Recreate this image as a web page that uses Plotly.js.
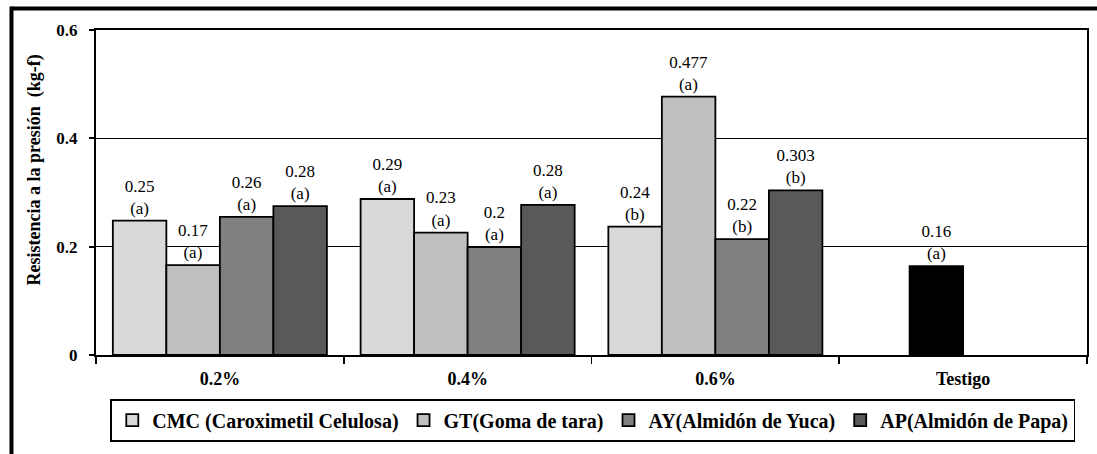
<!DOCTYPE html>
<html>
<head>
<meta charset="utf-8">
<script src="https://cdn.plot.ly/plotly-3.0.1.min.js"></script>
<style>
  html, body { margin: 0; padding: 0; background: #fff; }
  #chart { width: 1097px; height: 454px; }
</style>
</head>
<body>
<div id="chart"></div>
<script>
// ---- data ----
const categories = ["0.2%", "0.4%", "0.6%", "Testigo"];
const seriesNames = [
  "CMC (Caroximetil Celulosa)",
  "GT(Goma de tara)",
  "AY(Almidón de Yuca)",
  "AP(Almidón de Papa)"
];
const cmcValues = [0.248, 0.288, 0.237, null];
const gtValues  = [0.166, 0.226, 0.477, 0.164];
const ayValues  = [0.255, 0.199, 0.214, null];
const apValues  = [0.275, 0.277, 0.304, null];

const cmcLabels = ["0.25<br>(a)", "0.29<br>(a)", "0.24<br>(b)", ""];
const gtLabels  = ["0.17<br>(a)", "0.23<br>(a)", "0.477<br>(a)", "0.16<br>(a)"];
const ayLabels  = ["0.26<br>(a)", "0.2<br>(a)", "0.22<br>(b)", ""];
const apLabels  = ["0.28<br>(a)", "0.28<br>(a)", "0.303<br>(b)", ""];

const yTickValues = [0, 0.2, 0.4, 0.6];
const yTickLabels = ["0", "0.2", "0.4", "0.6"];
const yTitle = "Resistencia a la presión  (kg-f)";

// ---- styles ----
const serif = "'Liberation Serif', 'Times New Roman', serif";
const seriesColors = ["#d9d9d9", "#c0c0c0", "#808080", "#595959"];
const testigoColor = "#000000";

function makeTrace(name, values, labels, color, isGT) {
  const colors = values.map((v, i) => (isGT && categories[i] === "Testigo") ? testigoColor : color);
  return {
    type: "bar",
    name: name,
    x: categories,
    y: values,
    text: labels,
    textposition: "outside",
    cliponaxis: false,
    textfont: { family: serif, size: 17, color: "#000" },
    marker: {
      color: colors,
      line: { color: "#000", width: 1.8 }
    },
    hoverinfo: "x+y+name"
  };
}

const traces = [
  makeTrace(seriesNames[0], cmcValues, cmcLabels, seriesColors[0], false),
  makeTrace(seriesNames[1], gtValues, gtLabels, seriesColors[1], true),
  makeTrace(seriesNames[2], ayValues, ayLabels, seriesColors[2], false),
  makeTrace(seriesNames[3], apValues, apLabels, seriesColors[3], false)
];

const layout = {
  width: 1097,
  height: 454,
  margin: { l: 96, r: 10, t: 30, b: 99 },
  paper_bgcolor: "#fff",
  plot_bgcolor: "#fff",
  barmode: "group",
  bargap: 0.136,
  bargroupgap: 0,
  showlegend: true,
  legend: {
    orientation: "h",
    x: 0.5015,
    xanchor: "center",
    y: -0.135,
    yanchor: "top",
    bordercolor: "#000",
    borderwidth: 1.8,
    bgcolor: "#fff",
    font: { family: serif, size: 20, color: "#000", weight: "bold" },
    traceorder: "normal",
    itemwidth: 30
  },
  xaxis: {
    type: "category",
    showline: true,
    linecolor: "#000",
    linewidth: 2.2,
    mirror: true,
    ticks: "outside",
    tickson: "boundaries",
    ticklen: 7,
    tickwidth: 1.8,
    tickcolor: "#000",
    ticklabelstandoff: 6,
    tickfont: { family: serif, size: 18, color: "#000", weight: "bold" },
    showgrid: false,
    zeroline: false,
    fixedrange: true
  },
  yaxis: {
    range: [0, 0.6],
    tickvals: yTickValues,
    ticktext: yTickLabels,
    showline: true,
    linecolor: "#000",
    linewidth: 2.2,
    mirror: true,
    ticks: "outside",
    ticklen: 5,
    tickwidth: 1.8,
    tickcolor: "#000",
    ticklabelstandoff: 8,
    tickfont: { family: serif, size: 17, color: "#000", weight: "bold" },
    showgrid: true,
    gridcolor: "#000",
    gridwidth: 1.6,
    zeroline: false,
    fixedrange: true
  },
  annotations: [
    {
      text: yTitle,
      xref: "paper", yref: "paper",
      x: -0.0616, y: 0.5708,
      xanchor: "center", yanchor: "middle",
      textangle: -90,
      showarrow: false,
      font: { family: serif, size: 18, color: "#000", weight: "bold" }
    }
  ],
  shapes: [
    {
      type: "line", xref: "paper", yref: "paper",
      x0: -0.0853, x1: 1.02, y0: 1.066, y1: 1.066,
      line: { color: "#000", width: 4 }, layer: "above"
    },
    {
      type: "line", xref: "paper", yref: "paper",
      x0: -0.0853, x1: -0.0853, y0: -0.33, y1: 1.072,
      line: { color: "#000", width: 4 }, layer: "above"
    }
  ]
};

Plotly.newPlot("chart", traces, layout, { displayModeBar: false, staticPlot: true });
</script>
</body>
</html>
